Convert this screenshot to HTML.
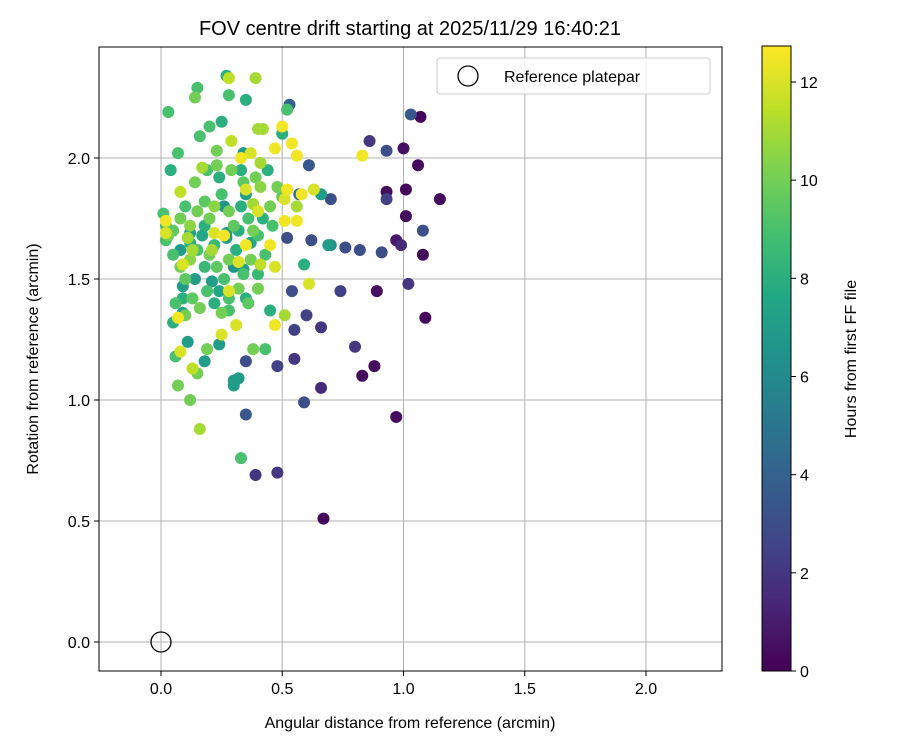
<!DOCTYPE html>
<html><head><meta charset="utf-8"><style>
body{margin:0;background:#fff;}
svg{font-family:"Liberation Sans","DejaVu Sans",sans-serif;}
</style></head><body>
<svg id="chart" width="900" height="750" xmlns="http://www.w3.org/2000/svg">
<defs>
<linearGradient id="vir" x1="0" y1="1" x2="0" y2="0">
<stop offset="0" stop-color="#440154"/><stop offset="0.1" stop-color="#482475"/><stop offset="0.2" stop-color="#414487"/><stop offset="0.3" stop-color="#355f8d"/><stop offset="0.4" stop-color="#2a788e"/><stop offset="0.5" stop-color="#21918c"/><stop offset="0.6" stop-color="#22a884"/><stop offset="0.7" stop-color="#44bf70"/><stop offset="0.8" stop-color="#7ad151"/><stop offset="0.9" stop-color="#bddf26"/><stop offset="1" stop-color="#fde725"/>
</linearGradient>
</defs>
<g id="grid"></g>
<g id="points"></g>
<rect x="99" y="47" width="623" height="624" fill="none" stroke="#000" stroke-width="1"/>
<g id="ticks"></g>
<text x="410" y="35" text-anchor="middle" font-size="20">FOV centre drift starting at 2025/11/29 16:40:21</text>
<text x="410" y="728" text-anchor="middle" font-size="16">Angular distance from reference (arcmin)</text>
<text transform="translate(38,359) rotate(-90)" text-anchor="middle" font-size="16">Rotation from reference (arcmin)</text>
<g>
<rect x="437" y="58" width="273" height="36" rx="3" fill="#fff" fill-opacity="0.8" stroke="#ccc"/>
<circle cx="468" cy="76" r="10" fill="none" stroke="#000" stroke-width="1.3"/>
<text x="504" y="82" font-size="16">Reference platepar</text>
</g>
<rect x="762" y="46" width="29" height="625" fill="url(#vir)" stroke="#000"/>
<g id="cbticks"></g>
<text transform="translate(856,359) rotate(-90)" text-anchor="middle" font-size="16">Hours from first FF file</text>
</svg>
<script>
const xTicks=[0,0.5,1.0,1.5,2.0];
const yTicks=[0,0.5,1.0,1.5,2.0];
const cTicks=[0,2,4,6,8,10,12];
const ptX=[1.00,1.07,1.01,0.93,1.01,0.97,1.08,1.09,1.15,0.83,0.88,0.97,0.67,0.89,1.06,
0.99,1.02,0.93,0.86,0.80,0.66,0.55,0.66,0.48,0.39,0.48,0.74,0.55,0.60,
0.93,1.03,1.08,0.91,0.82,0.76,0.70,0.62,0.52,0.54,0.59,0.35,0.35,0.70,0.61,0.57,0.53,
0.27,0.35,0.25,0.34,0.33,0.50,0.04,0.30,0.32,0.30,0.34,0.35,0.45,0.59,0.66,0.69,0.09,0.09,0.09,0.11,0.12,0.27,0.21,0.05,0.24,0.33,0.43,0.03,0.20,0.15,0.28,0.52,0.02,0.01,0.07,0.16,0.06,0.07,0.12,0.15,0.18,0.19,0.28,
0.39,0.28,0.42,0.40,0.50,0.54,0.56,0.83,0.47,0.29,0.37,0.33,0.63,0.58,0.52,0.51,0.56,0.56,0.51,0.40,0.35,0.45,0.47,0.61,0.51,0.47,0.25,0.31,0.28,0.41,0.32,0.35,0.26,0.22,0.08,0.02,0.02,0.09,0.07,0.08,0.13,0.16,0.11,0.13,0.21,0.38,0.41,0.17,0.23,0.23,0.14,0.38,
0.05,0.08,0.10,0.12,0.15,0.18,0.20,0.22,0.25,0.28,0.30,0.33,0.36,0.38,0.40,0.42,0.45,0.05,0.08,0.10,0.12,0.15,0.18,0.20,0.23,0.26,0.28,0.31,0.34,0.37,0.40,0.43,0.06,0.10,0.13,0.16,0.19,0.22,0.25,0.28,0.32,0.36,0.40,0.14,0.19,0.24,0.29,0.34,0.39,0.44,0.48,0.12,0.17,0.22,0.27,0.32,0.37,0.08,0.14,0.24,0.30,0.18,0.26,0.35,0.41,0.46,0.50,0.03,0.02];
const ptY=[2.04,2.17,1.87,1.86,1.76,1.66,1.60,1.34,1.83,1.10,1.14,0.93,0.51,1.45,1.97,
1.64,1.48,1.83,2.07,1.22,1.30,1.17,1.05,0.70,0.69,1.14,1.45,1.29,1.35,
2.03,2.18,1.70,1.61,1.62,1.63,1.64,1.66,1.67,1.45,0.99,1.16,0.94,1.83,1.97,1.85,2.22,
2.34,2.24,2.15,2.02,1.95,2.10,1.95,1.08,1.09,1.06,1.54,1.42,1.37,1.56,1.85,1.64,1.47,1.42,1.36,1.24,1.69,1.69,1.49,1.32,1.23,0.76,1.21,2.19,2.13,2.29,2.26,2.20,1.66,1.77,2.02,2.09,1.18,1.06,1.00,1.11,1.16,1.21,1.37,
2.33,2.33,2.12,2.12,2.13,2.06,2.01,2.01,2.04,2.07,2.02,2.00,1.87,1.85,1.87,1.83,1.80,1.74,1.74,1.78,1.87,1.64,1.55,1.48,1.35,1.31,1.27,1.31,1.45,1.56,1.57,1.64,1.68,1.69,1.86,1.74,1.69,1.56,1.34,1.20,1.13,0.88,1.67,1.62,1.62,1.81,1.98,1.96,1.97,2.03,2.25,1.21,
1.70,1.75,1.80,1.72,1.78,1.82,1.75,1.80,1.85,1.78,1.72,1.80,1.75,1.70,1.68,1.75,1.80,1.60,1.55,1.50,1.58,1.62,1.55,1.60,1.55,1.50,1.58,1.62,1.52,1.58,1.52,1.60,1.40,1.35,1.42,1.38,1.45,1.40,1.36,1.42,1.46,1.40,1.46,1.90,1.95,1.92,1.95,1.90,1.92,1.95,1.88,1.65,1.68,1.64,1.67,1.70,1.65,1.62,1.50,1.45,1.55,1.72,1.80,1.85,1.88,1.72,1.84,1.68,1.72];
const ptH=[0.5,0.2,0.3,0.4,0.4,0.8,0.4,0.3,0.4,0.3,0.4,0.4,0.3,0.5,0.3,
1.5,2,2.5,2,2,2,2,1.5,2,2,2.5,2.5,2.5,2.5,
3,3.5,3,3,3,3,6,3,3,3,3,3,3.5,3,3.5,4.5,4,
8,8,8,7,8,8,8,7,7,7,7,8,8,8,7,7,7,8,7,7,7,7,7,8,7,9,9,9,9,9,9,9,9,9,9,9,9,10,10,10,7,10,9,
11,11.5,11,11,12.5,12.5,12.5,12.5,12.5,11.5,12,12.5,12,12.5,12.5,12,11,12.5,12.5,12,12,12.5,12,12,11,12.5,12,12,12,11.5,12,12.5,12.5,12,11.5,12.5,12,12,12.5,12,11.5,11,11,11,11,11,11,11,10,10,10,10,
9.5,10,9,10.5,10,9.5,10,10.5,9,10,9.5,8,9,10,9,8,10,9,10,9.5,10.5,9,8.5,10,9.5,9,10,8,9,10,8.5,9,9,10,9.5,10,9,8,10,9,10,9.5,10,10,9,8,10,9.5,10,8,10,8,7.5,8.5,7,8,7.5,7,7,7.5,6.5,8,6.5,7,10.5,9,9.5,10,9];

const X=v=>161+v*242.5, Y=v=>642-v*242, C=h=>671-h*(589/12);
const vir=["#440154","#482475","#414487","#355f8d","#2a788e","#21918c","#22a884","#44bf70","#7ad151","#bddf26","#fde725"];
function hex(c){return [1,3,5].map(i=>parseInt(c.substr(i,2),16));}
function col(h){let t=Math.max(0,Math.min(1,h/12.73))*10;let i=Math.min(9,Math.floor(t)),f=t-i;
 const a=hex(vir[i]),b=hex(vir[i+1]);return "rgb("+a.map((v,k)=>Math.round(v+(b[k]-v)*f)).join(",")+")";}
const NS="http://www.w3.org/2000/svg";
function mk(tag,attrs,parent){const e=document.createElementNS(NS,tag);for(const k in attrs)e.setAttribute(k,attrs[k]);parent.appendChild(e);return e;}
const grid=document.getElementById('grid'),ticks=document.getElementById('ticks'),pts=document.getElementById('points'),cb=document.getElementById('cbticks');
xTicks.forEach(v=>{
 const g=mk('line',{x1:X(v),x2:X(v),y1:47,y2:671,stroke:'#b0b0b0','stroke-width':1},grid);
 
 
 mk('line',{x1:X(v),x2:X(v),y1:671,y2:676,stroke:'#000'},ticks);
 const t=mk('text',{x:X(v),y:694,'text-anchor':'middle','font-size':16},ticks);t.textContent=v.toFixed(1);
 
 
});
yTicks.forEach(v=>{
 const g=mk('line',{x1:99,x2:722,y1:Y(v),y2:Y(v),stroke:'#b0b0b0','stroke-width':1},grid);
 
 
 mk('line',{x1:94,x2:99,y1:Y(v),y2:Y(v),stroke:'#000'},ticks);
 const t=mk('text',{x:90,y:Y(v)+6,'text-anchor':'end','font-size':16},ticks);t.textContent=v.toFixed(1);
 
 
});
cTicks.forEach(v=>{
 mk('line',{x1:791,x2:796,y1:C(v),y2:C(v),stroke:'#000'},cb);
 const t=mk('text',{x:800,y:C(v)+6,'font-size':16},cb);t.textContent=v;
 
 
});
const order=ptX.map((_,i)=>i).sort((a,b)=>ptH[a]-ptH[b]);
order.forEach(i=>{
 const c=mk('circle',{cx:X(ptX[i]),cy:Y(ptY[i]),r:6,fill:col(ptH[i])},pts);
 
 
});
const ref=mk('circle',{cx:X(0),cy:Y(0),r:10,fill:'none',stroke:'#000','stroke-width':1.3},pts);


</script>
</body></html>
